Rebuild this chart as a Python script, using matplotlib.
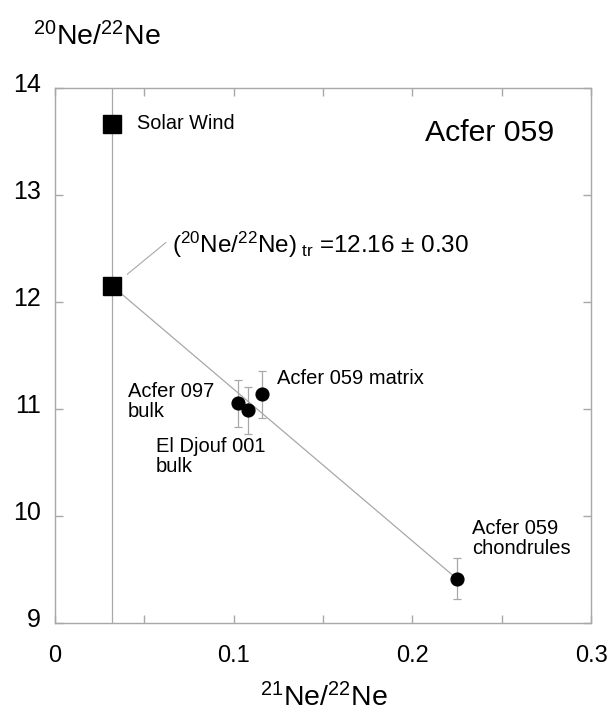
import matplotlib
matplotlib.use("Agg")
import matplotlib.pyplot as plt
from matplotlib.ticker import MultipleLocator
from matplotlib.transforms import ScaledTranslation

plt.rcParams['font.family'] = ['Liberation Sans', 'DejaVu Sans']
plt.rcParams['mathtext.fontset'] = 'custom'
plt.rcParams['mathtext.rm'] = 'Liberation Sans'
plt.rcParams['mathtext.it'] = 'Liberation Sans'

# Data
sw_x = [0.032]
sw_y = [13.66]
tr_x = [0.032]
tr_y = [12.15]
sample_names = ["Acfer 097\nbulk", "El Djouf 001\nbulk", "Acfer 059 matrix", "Acfer 059\nchondrules"]
sample_x = [0.1026, 0.108, 0.116, 0.2248]
sample_y = [11.055, 10.99, 11.136, 9.415]
sample_err = [0.22, 0.22, 0.22, 0.19]
label_x = [0.0407, 0.0565, 0.124, 0.2335]
label_y = [11.07, 10.555, 11.286, 9.79]
xticks = [0, 0.1, 0.2, 0.3]
yticks = [9, 10, 11, 12, 13, 14]

GRAY = '#a8a8a8'
fig = plt.figure(figsize=(6.12, 7.13), dpi=100)
ax = fig.add_axes([55/612, 1-623/713, (591-55)/612, (623-88)/713])
ax.set_xlim(0, 0.3)
ax.set_ylim(9, 14)

# vertical solar line
ax.axvline(sw_x[0], color=GRAY, lw=0.9, zorder=1)
# mixing line from trapped composition to chondrules
ax.plot([tr_x[0], sample_x[3]], [tr_y[0], sample_y[3]], color=GRAY, lw=0.9, zorder=1)

ax.errorbar(sample_x, sample_y, yerr=sample_err, fmt='none', ecolor=GRAY,
            elinewidth=0.9, capsize=2.8, capthick=0.9, zorder=2)
ax.plot(sample_x, sample_y, 'o', color='black', markersize=9.2, zorder=3, linestyle='none')
ax.plot(sw_x, sw_y, 's', color='black', markersize=12.5, zorder=3)
ax.plot(tr_x, tr_y, 's', color='black', markersize=12.5, zorder=3)

for name, lx, ly in zip(sample_names, label_x, label_y):
    ax.text(lx, ly, name, fontsize=14.5, ha='left', va='center', linespacing=1.05)

ax.text(0.0459, 13.67, "Solar Wind", fontsize=14.3, ha='left', va='center')
ax.text(0.2071, 13.58, "Acfer 059", fontsize=21.8, ha='left', va='center')
ax.text(0.0655, 12.535, r"$(^{20}\mathrm{Ne}/^{22}\mathrm{Ne})_{\mathrm{\ tr}}$ =12.16 ± 0.30",
        fontsize=17.5, ha='left', va='center')
# leader line
ax.plot([0.0405, 0.062], [12.26, 12.555], color=GRAY, lw=0.8, zorder=1)

for s in ax.spines.values():
    s.set_color(GRAY)
    s.set_linewidth(1.0)

ax.set_xticks(xticks)
ax.set_xticklabels(['0', '0.1', '0.2', '0.3'])
ax.xaxis.set_minor_locator(MultipleLocator(0.05))
ax.set_yticks(yticks)
ax.set_yticklabels([str(v) for v in yticks])
ax.tick_params(axis='both', which='both', direction='in', top=True, right=True,
               color=GRAY, length=6, width=1.0)
ax.tick_params(axis='x', which='major', pad=16, labelsize=17)
ax.tick_params(axis='y', which='major', pad=10, labelsize=18)
for lbl in ax.get_yticklabels():
    lbl.set_transform(lbl.get_transform() + ScaledTranslation(0, 4/72, fig.dpi_scale_trans))

fig.text(324/612, 1-706/713, r"$^{21}\mathrm{Ne}/^{22}\mathrm{Ne}$", fontsize=20.5,
         ha='center', va='baseline')
fig.text(33/612, 1-45/713, r"$^{20}\mathrm{Ne}/^{22}\mathrm{Ne}$", fontsize=20.5,
         ha='left', va='baseline')

fig.savefig("out.png", dpi=100)
